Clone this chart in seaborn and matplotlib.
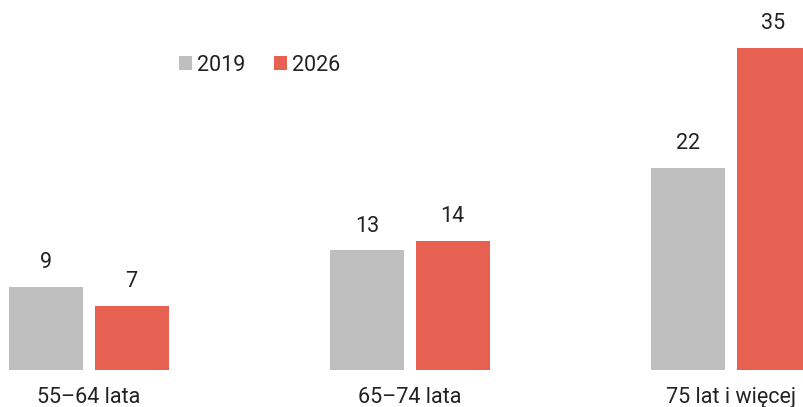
import pandas as pd
import matplotlib.pyplot as plt
import seaborn as sns
from matplotlib.patches import Patch

# age groups and shares for both years
ages = ["55–64 lata", "65–74 lata", "75 lat i więcej"]
years = ["2019", "2026"]
v2019 = [9, 13, 22]
v2026 = [7, 14, 35]
colors = ["#bfbfbf", "#e86051"]

df = pd.DataFrame({
    "age": ages * 2,
    "year": ["2019"] * 3 + ["2026"] * 3,
    "value": v2019 + v2026,
})

sns.set_theme(style="white")
plt.rcParams["font.family"] = ["Roboto", "DejaVu Sans"]

fig = plt.figure(figsize=(8.04, 4.07), dpi=100)
ax = fig.add_axes([0, 37 / 407, 1, 370 / 407])

sns.barplot(data=df, x="age", y="value", hue="year", hue_order=years,
            palette=colors, width=0.53, gap=0.13, saturation=1,
            linewidth=0, legend=False, ax=ax)

for cont in ax.containers:
    ax.bar_label(cont, padding=10, fontsize=15.5, color="#222222")

ax.set_xlim(-89 / 321, 715 / 321)
ax.set_ylim(0, 370 / 9.2)
ax.set_xlabel("")
ax.set_ylabel("")
ax.set_yticks([])
ax.tick_params(axis="x", length=0, pad=12, labelsize=15.5, labelcolor="#222222")
sns.despine(ax=ax, left=True, bottom=True)

handles = [Patch(facecolor=c, edgecolor="none") for c in colors]
fig.legend(handles, years, loc="center", bbox_to_anchor=(0.323, 0.84),
           ncol=2, frameon=False, fontsize=15.5, handlelength=0.58,
           handleheight=0.58, handletextpad=0.25, columnspacing=1.35,
           labelcolor="#222222")

fig.savefig("out.png", dpi=100)
